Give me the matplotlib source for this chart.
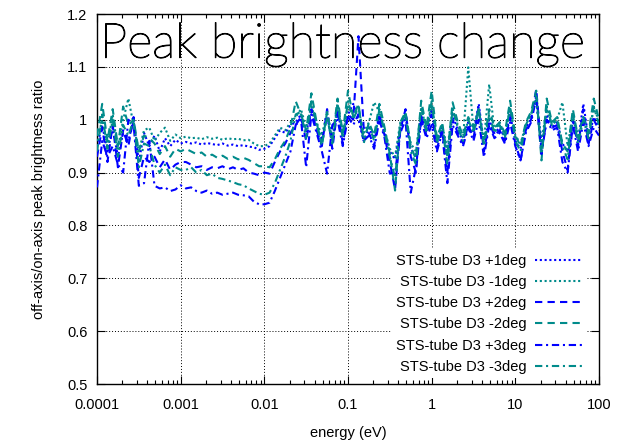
import numpy as np
import matplotlib
matplotlib.use("Agg")
import matplotlib.pyplot as plt
import matplotlib.patheffects as pe
from matplotlib.ticker import FuncFormatter, FixedLocator, LogLocator, NullFormatter

# energy grid of the tabulated data (16 points per decade)
energy = np.logspace(-4, 2, 97)

p1deg = [0.95, 0.99, 0.94, 0.985, 0.93, 0.975, 0.96, 1.0, 0.92, 0.975, 0.95,
         0.97, 0.94, 0.965, 0.95, 0.962, 0.955,
         0.958, 0.955, 0.957, 0.953, 0.956, 0.954, 0.952, 0.955, 0.951, 0.953,
         0.95, 0.952, 0.949, 0.948, 0.943,
         0.945, 0.95, 0.965, 0.98, 0.975, 0.99,
         0.995, 1.01, 0.975, 1.02, 0.985, 0.965, 1.005, 0.96, 1.015, 0.97,
         1.01, 1.03, 1.0, 0.96, 0.985, 0.965, 1.01, 0.975, 0.94, 0.925,
         0.985, 1.005, 0.945, 0.93, 1.01, 0.975, 1.02, 0.955, 0.985, 0.935,
         1.01, 0.98, 0.96, 0.995, 0.975, 1.03, 0.955, 1.0, 0.975, 0.985,
         0.965, 1.01, 0.96, 0.945, 0.985, 1.0, 1.045, 0.955, 1.01, 0.985,
         0.995, 0.955, 0.94, 1.0, 0.96, 1.03, 0.965, 1.005, 0.985]

m1deg = [0.96, 1.0, 0.95, 1.01, 0.945, 1.0, 1.04, 0.99, 0.94, 0.98, 0.985,
         0.96, 0.975, 0.985, 0.96, 0.972, 0.965,
         0.968, 0.965, 0.966, 0.963, 0.967, 0.964, 0.966, 0.962, 0.965, 0.963,
         0.964, 0.961, 0.962, 0.955, 0.95,
         0.95, 0.955, 0.97, 0.985, 0.98, 0.995,
         1.005, 1.02, 0.985, 1.025, 0.995, 0.97, 1.015, 0.965, 1.03, 0.975,
         1.025, 1.01, 1.02, 0.975, 0.995, 1.033, 1.015, 0.98, 0.945, 0.93,
         0.995, 1.01, 0.955, 0.94, 1.02, 0.985, 1.025, 0.965, 0.99, 0.945,
         1.02, 0.99, 0.965, 1.099, 0.98, 1.015, 0.96, 1.067, 0.98, 0.995,
         0.97, 1.02, 0.97, 0.955, 0.99, 1.01, 1.035, 0.96, 1.02, 0.99,
         1.0, 1.033, 0.95, 1.01, 0.97, 1.005, 0.975, 1.02, 1.0]

p2deg = [0.93, 0.985, 0.92, 0.99, 0.91, 0.98, 0.95, 1.005, 0.89, 0.93, 0.92,
         0.93, 0.91, 0.925, 0.905, 0.915, 0.92,
         0.92, 0.915, 0.91, 0.912, 0.905, 0.91, 0.908, 0.912, 0.906, 0.91,
         0.905, 0.908, 0.9, 0.898, 0.895,
         0.9, 0.898, 0.92, 0.94, 0.955, 0.975,
         0.99, 1.005, 0.96, 1.02, 0.98, 0.95, 1.02, 0.945, 1.02, 0.955,
         1.01, 1.0, 1.158, 0.985, 0.975, 0.95, 1.01, 0.97, 0.92, 0.868,
         0.98, 1.02, 0.93, 0.9, 1.005, 0.97, 1.01, 0.945, 0.98, 0.9,
         1.0, 0.975, 0.955, 0.99, 0.965, 1.025, 0.94, 0.995, 0.97, 0.98,
         0.96, 1.005, 0.955, 0.923, 0.98, 1.0, 1.058, 0.94, 1.0, 0.985,
         0.99, 0.94, 0.905, 1.0, 0.95, 1.02, 0.955, 1.0, 0.98]

m2deg = [0.97, 1.03, 0.96, 1.02, 0.95, 1.025, 0.99, 1.0, 0.94, 0.97, 0.965,
         0.955, 0.935, 0.95, 0.93, 0.945, 0.94,
         0.945, 0.94, 0.935, 0.938, 0.93, 0.934, 0.928, 0.932, 0.926, 0.93,
         0.925, 0.928, 0.924, 0.918, 0.912,
         0.912, 0.91, 0.925, 0.945, 0.96, 0.985,
         1.035, 1.01, 0.98, 1.05, 0.995, 0.95, 1.015, 0.96, 1.04, 0.975,
         1.055, 1.005, 1.03, 0.955, 0.995, 0.97, 1.03, 0.985, 0.935, 0.866,
         0.995, 1.015, 0.95, 0.925, 1.036, 0.985, 1.055, 0.965, 0.995, 0.93,
         1.033, 0.995, 0.97, 1.005, 0.985, 1.02, 0.955, 1.02, 0.985, 0.995,
         0.975, 1.036, 0.97, 0.95, 0.995, 1.015, 1.055, 0.923, 1.04, 0.995,
         1.005, 0.955, 0.94, 1.02, 0.965, 1.005, 0.975, 1.04, 1.0]

p3deg = [0.872, 0.96, 0.93, 0.95, 0.915, 0.9, 1.0, 0.99, 0.875, 0.88, 0.96,
         0.875, 0.87, 0.872, 0.865, 0.868, 0.876,
         0.87, 0.872, 0.865, 0.862, 0.866, 0.86, 0.862, 0.858, 0.86, 0.862,
         0.858, 0.857, 0.855, 0.845, 0.84,
         0.84, 0.843, 0.865, 0.89, 0.915, 0.94,
         0.99, 1.0, 0.91, 1.01, 0.975, 0.94, 0.898, 0.99, 1.0, 0.95,
         1.005, 0.99, 1.01, 0.96, 0.97, 0.945, 1.0, 0.965, 0.898, 0.9,
         0.975, 1.0, 0.862, 0.91, 1.0, 0.965, 0.99, 0.94, 0.975, 0.88,
         0.99, 0.97, 0.95, 0.985, 0.96, 1.0, 0.929, 0.99, 0.965, 0.975,
         0.955, 0.995, 0.95, 0.923, 0.975, 0.995, 1.04, 0.935, 1.0, 0.98,
         0.985, 0.92, 0.9, 0.99, 0.94, 0.995, 0.95, 0.985, 0.97]

m3deg = [0.94, 1.01, 0.945, 1.0, 0.93, 0.99, 0.97, 1.0, 0.91, 0.955, 0.95,
         0.915, 0.9, 0.915, 0.895, 0.91, 0.905,
         0.905, 0.91, 0.9, 0.905, 0.895, 0.898, 0.89, 0.888, 0.885, 0.882,
         0.878, 0.876, 0.87, 0.865, 0.86,
         0.858, 0.862, 0.88, 0.905, 0.93, 0.96,
         1.01, 1.015, 0.965, 1.035, 0.99, 0.955, 1.005, 0.955, 1.03, 0.965,
         1.035, 1.0, 1.025, 0.965, 0.99, 0.96, 1.02, 0.975, 0.93, 0.89,
         0.99, 1.01, 0.94, 0.915, 1.025, 0.975, 1.035, 0.955, 0.99, 0.915,
         1.02, 0.985, 0.96, 1.0, 0.975, 1.02, 0.95, 1.01, 0.975, 0.99,
         0.965, 1.025, 0.96, 0.94, 0.99, 1.01, 1.045, 0.935, 1.025, 0.99,
         1.0, 0.95, 0.925, 1.01, 0.955, 1.0, 0.965, 1.025, 0.99]

labels = ["STS-tube D3 +1deg", "STS-tube D3 -1deg", "STS-tube D3 +2deg",
          "STS-tube D3 -2deg", "STS-tube D3 +3deg", "STS-tube D3 -3deg"]
xticks = [1e-4, 1e-3, 1e-2, 1e-1, 1, 10, 100]

blue = "#0000ff"
teal = "#008b8b"
dotted = (0, (1, 1.3))
dashed = (0, (3.5, 2.5))
dashdot = (0, (3.5, 1.8, 1, 1.8))

plt.rcParams["font.family"] = ["Liberation Sans", "DejaVu Sans"]

fig = plt.figure(figsize=(6.29, 4.44), dpi=100)
ax = fig.add_axes([97 / 629, 60 / 444, 502 / 629, 370 / 444])

series = [p1deg, m1deg, p2deg, m2deg, p3deg, m3deg]
colors = [blue, teal, blue, teal, blue, teal]
styles = [dotted, dotted, dashed, dashed, dashdot, dashdot]
for vals, col, ls, lab in zip(series, colors, styles, labels):
    ax.plot(energy, vals, color=col, linestyle=ls, linewidth=1.5, label=lab,
            zorder=3)

ax.set_xscale("log")
ax.set_xlim(1e-4, 100)
ax.set_ylim(0.5, 1.2)
ax.set_yticks(np.arange(0.5, 1.21, 0.1))
ax.xaxis.set_major_locator(FixedLocator(xticks))
ax.xaxis.set_minor_locator(LogLocator(base=10, subs=np.arange(2, 10), numticks=20))
ax.xaxis.set_minor_formatter(NullFormatter())
ax.xaxis.set_major_formatter(FuncFormatter(lambda v, p: "%g" % v))
ax.yaxis.set_major_formatter(FuncFormatter(lambda v, p: "%g" % round(v, 2)))

ax.tick_params(which="both", direction="in", top=True, right=True,
               labelsize=10.5, width=0.8)
ax.tick_params(axis="x", which="major", length=6, pad=10)
ax.tick_params(axis="y", which="major", length=6, pad=7)
ax.tick_params(which="minor", length=3)
for sp in ax.spines.values():
    sp.set_linewidth(1.0)

ax.grid(True, which="major", color="black", linestyle=(0, (1, 2)),
        linewidth=0.7)

ax.set_xlabel("energy (eV)", fontsize=10.5, labelpad=10)
ax.set_ylabel("off-axis/on-axis peak brightness ratio", fontsize=10.5,
              labelpad=15)

ax.text(0.006, 0.882, "Peak brightness change", transform=ax.transAxes,
        fontsize=35, family=["Lato", "DejaVu Sans"], fontweight="light",
        color="black", ha="left", va="baseline", zorder=2,
        path_effects=[pe.withStroke(linewidth=0.8, foreground="black")])

leg = ax.legend(loc="lower right", bbox_to_anchor=(0.975, 0.015),
                markerfirst=False, fontsize=10.5, handlelength=3.2,
                handletextpad=0.6, labelspacing=0.5, borderpad=0.3,
                borderaxespad=0, frameon=True, fancybox=False)
leg.get_frame().set_facecolor("white")
leg.get_frame().set_edgecolor("none")
leg.get_frame().set_alpha(1)
leg.set_zorder(5)

fig.savefig("out.png", dpi=100)
